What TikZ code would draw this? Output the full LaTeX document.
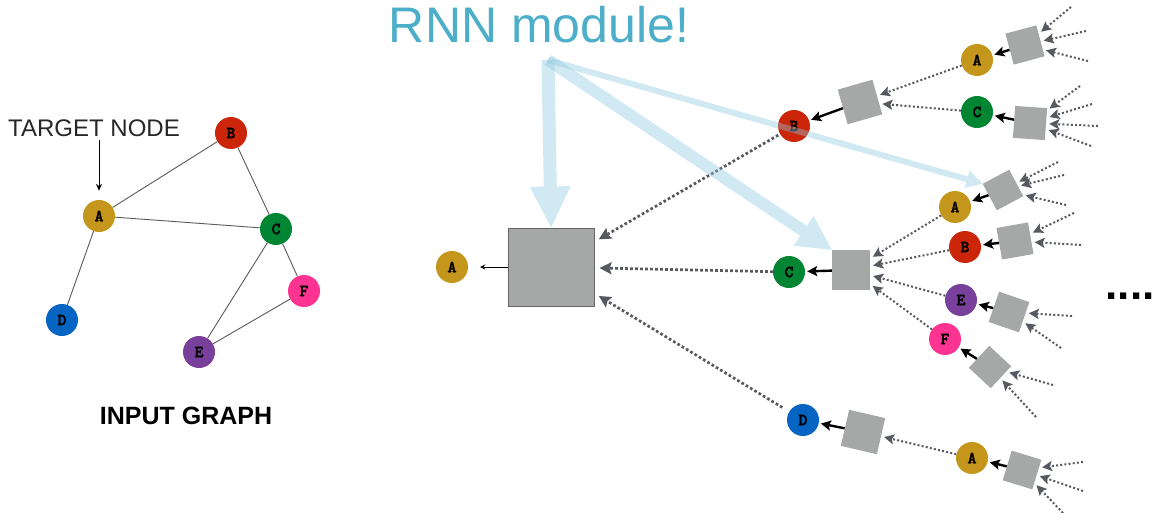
\documentclass[tikz,border=0pt]{standalone}
\usepackage{fontspec}
\setmainfont{Liberation Sans}
\newfontfamily\letterfont{lmmonolt10-bold}[Extension=.otf, FakeBold=2]
\usetikzlibrary{arrows.meta}
\definecolor{gold}{RGB}{197,150,28}
\definecolor{brick}{RGB}{204,38,10}
\definecolor{leaf}{RGB}{0,134,50}
\definecolor{ocean}{RGB}{6,100,194}
\definecolor{plum}{RGB}{121,64,155}
\definecolor{rose}{RGB}{255,51,145}
\definecolor{cellgray}{RGB}{165,168,167}
\definecolor{feedgray}{RGB}{86,90,96}
\definecolor{rnnblue}{RGB}{76,174,200}
\definecolor{shareblue}{RGB}{140,200,222}

\begin{document}
\begin{tikzpicture}[x=1pt, y=-1pt,
    vertex/.style={circle, minimum size=32pt, inner sep=0pt, font=\letterfont\fontsize{17}{17}\selectfont},
    cell/.style={rectangle, fill=cellgray, minimum size=32pt, inner sep=0pt},
    link/.style={draw=black!65, line width=0.9pt},
    feed/.style={draw=feedgray, line width=2pt, dash pattern=on 2pt off 2.2pt, -{Stealth[length=10pt,width=10pt,inset=2pt]}, shorten >=3pt},
    mainfeed/.style={feed, line width=2.7pt, dash pattern=on 2.7pt off 2.3pt, -{Stealth[length=12pt,width=12pt,inset=2pt]}, shorten >=5pt},
    emit/.style={draw=black, line width=2.4pt, -{Stealth[length=10pt,width=10pt,inset=2pt]}, shorten >=2pt},
    share/.style={draw=shareblue, opacity=0.4}
]
    \useasboundingbox (0,0) rectangle (1155,513);

    % Input graph
    \node[vertex, fill=gold] (ga) at (99,216) {A};
    \node[vertex, fill=brick] (gb) at (231,133) {B};
    \node[vertex, fill=leaf] (gc) at (276,229) {C};
    \node[vertex, fill=ocean] (gd) at (62,320) {D};
    \node[vertex, fill=plum] (ge) at (199,352) {E};
    \node[vertex, fill=rose] (gf) at (304,291) {F};
    \draw[link] (ga) -- (gb);
    \draw[link] (ga) -- (gc);
    \draw[link] (ga) -- (gd);
    \draw[link] (gb) -- (gc);
    \draw[link] (gc) -- (ge);
    \draw[link] (gc) -- (gf);
    \draw[link] (ge) -- (gf);
    \node[text=black!85, font=\fontsize{24}{24}\selectfont] (target) at (94,128) {TARGET NODE};
    \draw[line width=1pt, -{Stealth[length=7pt,width=6pt]}, shorten >=9pt] (target.south -| ga) -- (ga);
    \node[font=\bfseries\fontsize{25}{25}\selectfont] (caption) at (186,416) {INPUT GRAPH};

    % Main RNN cell
    \node[text=rnnblue, font=\fontsize{50}{50}\selectfont] (title) at (539,25) {RNN module!};
    \node[rectangle, fill=cellgray, draw=black!60, line width=1pt, minimum width=86pt, minimum height=78pt] (rnnbox) at (551,267) {};
    \node[vertex, fill=gold] (outA) at (452,267) {A};
    \draw[line width=1pt, -{Stealth[length=5pt,width=5pt]}, shorten >=12pt] (rnnbox) -- (outA);

    % First level
    \node[vertex, fill=brick] (l1b) at (794,126) {B};
    \node[vertex, fill=leaf] (l1c) at (789,272) {C};
    \node[vertex, fill=ocean] (l1d) at (803,420) {D};
    \node[cell, minimum size=36pt, rotate=16] (bbox) at (860,102) {};
    \node[cell, minimum width=38pt, minimum height=40pt] (cbox) at (851,270) {};
    \node[cell, minimum size=37pt, rotate=-13] (dbox) at (863,432) {};
    \draw[mainfeed, shorten <=2pt] (l1b) -- (rnnbox);
    \draw[mainfeed] (l1c) -- (rnnbox);
    \draw[mainfeed, shorten <=8pt] (l1d) -- (rnnbox);
    \draw[emit] (bbox) -- (l1b);
    \draw[emit] (cbox) -- (l1c);
    \draw[emit] (dbox) -- (l1d);

    % Second level under B
    \node[vertex, fill=gold] (tA) at (977,60) {A};
    \node[vertex, fill=leaf] (tC) at (977,112) {C};
    \node[cell, rotate=15] (tAbox) at (1025,45) {};
    \node[cell, rotate=-4] (tCbox) at (1030,123) {};
    \draw[feed] (tA) -- (bbox);
    \draw[feed] (tC) -- (bbox);
    \draw[emit] (tAbox) -- (tA);
    \draw[emit] (tCbox) -- (tC);

    % Second level under C
    \node[vertex, fill=gold] (mA) at (955,207) {A};
    \node[vertex, fill=brick] (mB) at (965,247) {B};
    \node[vertex, fill=plum] (mE) at (961,300) {E};
    \node[vertex, fill=rose] (mF) at (945,339) {F};
    \node[cell, minimum size=30pt, rotate=28] (mAbox) at (1003,190) {};
    \node[cell, rotate=10] (mBbox) at (1015,241) {};
    \node[cell, rotate=-19] (mEbox) at (1009,312) {};
    \node[cell, minimum size=30pt, rotate=-43] (mFbox) at (990,367) {};
    \draw[feed] (mA) -- (cbox);
    \draw[feed] (mB) -- (cbox);
    \draw[feed] (mE) -- (cbox);
    \draw[feed] (mF) -- (cbox);
    \draw[emit] (mAbox) -- (mA);
    \draw[emit] (mBbox) -- (mB);
    \draw[emit] (mEbox) -- (mE);
    \draw[emit] (mFbox) -- (mF);

    % Second level under D
    \node[vertex, fill=gold] (bA) at (972,458) {A};
    \node[cell, minimum size=31pt, rotate=-17] (bAbox) at (1022,470) {};
    \draw[feed] (bA) -- (dbox);
    \draw[emit] (bAbox) -- (bA);

    % Inputs to the last cells
    \foreach \dx/\dy in {46/-38, 61/-14, 63/16}
        \draw[feed] (tAbox.center) ++(\dx,\dy) coordinate (tAin) -- (tAbox);
    \foreach \dx/\dy in {50/-37, 62/-19, 68/3, 61/23}
        \draw[feed] (tCbox.center) ++(\dx,\dy) coordinate (tCin) -- (tCbox);
    \foreach \dx/\dy in {55/-28, 61/-15, 63/15}
        \draw[feed] (mAbox.center) ++(\dx,\dy) coordinate (mAin) -- (mAbox);
    \foreach \dx/\dy in {59/-28, 66/4}
        \draw[feed] (mBbox.center) ++(\dx,\dy) coordinate (mBin) -- (mBbox);
    \foreach \dx/\dy in {63/4, 52/36}
        \draw[feed] (mEbox.center) ++(\dx,\dy) coordinate (mEin) -- (mEbox);
    \foreach \dx/\dy in {63/18, 46/50}
        \draw[feed] (mFbox.center) ++(\dx,\dy) coordinate (mFin) -- (mFbox);
    \foreach \dx/\dy in {61/-8, 61/21, 41/43}
        \draw[feed] (bAbox.center) ++(\dx,\dy) coordinate (bAin) -- (bAbox);

    \node[inner sep=0pt, font=\bfseries\fontsize{44}{44}\selectfont] (more) at (1130,296) {....};

    % Shared weights
    \coordinate (src) at (548,60);
    \draw[share, line width=13pt, -{Triangle[length=41pt,width=41pt,line width=0pt]}] (src) -- (rnnbox.north);
    \draw[share, line width=12pt, -{Triangle[length=34pt,width=36pt,line width=0pt]}] (src) -- (cbox.north west);
    \draw[share, line width=6pt, -{Triangle[length=16pt,width=18pt,line width=0pt]}] (src) -- (mAbox.north west);
\end{tikzpicture}
\end{document}
